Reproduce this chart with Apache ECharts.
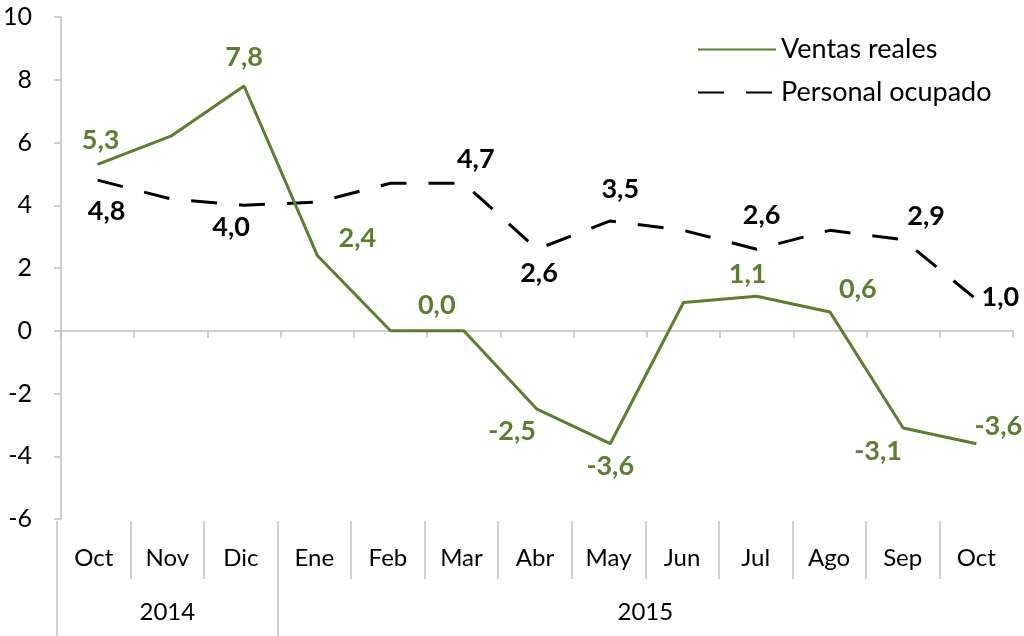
<!DOCTYPE html>
<html><head><meta charset="utf-8">
<script src="https://cdn.jsdelivr.net/npm/echarts@6/dist/echarts.min.js"></script>
<style>html,body{margin:0;padding:0;background:#fff}#c{width:1024px;height:636px}</style>
</head><body><div id="c"></div>
<script>
// ---- data ----
const months = ['Oct','Nov','Dic','Ene','Feb','Mar','Abr','May','Jun','Jul','Ago','Sep','Oct'];
const years  = ['2014','2014','2014','2015','2015','2015','2015','2015','2015','2015','2015','2015','2015'];
const ventas   = [5.3, 6.2, 7.8, 2.4, 0.0, 0.0, -2.5, -3.6, 0.9, 1.1, 0.6, -3.1, -3.6];
const personal = [4.8, 4.2, 4.0, 4.1, 4.7, 4.7, 2.6, 3.5, 3.2, 2.6, 3.2, 2.9, 1.0];
const yMin = -6, yMax = 10, yStep = 2;
const seriesNames = ['Ventas reales', 'Personal ocupado'];

// ---- styling (label placement offsets) ----
const GREEN = '#5b7e2f';
const FONT = 'Lato';
const ventasLbl = {0:[3,-24],2:[0,-29],3:[40,-17],5:[-27,-25],6:[-25,22],7:[0,23],9:[-9,-22],10:[28,-23],11:[-25,23],12:[22,-17]};
const personalLbl = {0:[9,31],2:[-13,22],5:[12,-24],6:[2,24],7:[10,-32],9:[5,-34],11:[23,-23],12:[24,-2]};

function fmt(v){ return v.toFixed(1).replace('.', ','); }
function buildData(vals, lbl, color){
  return vals.map((v,i)=>{
    const o = {value:v};
    if (lbl[i]) {
      o.label = {show:true, position:'inside', offset:lbl[i], formatter: fmt(v),
        color:color, fontFamily:FONT, fontWeight:'bold', fontSize:27, align:'center', verticalAlign:'middle'};
    } else {
      o.label = {show:false};
    }
    return o;
  });
}

// half-step axes for the category table
const n = months.length;
const halfMonths = [];
for (let k=0;k<=2*n;k++) halfMonths.push(k%2===1 ? months[(k-1)/2] : '');
const halfYears = new Array(2*n+1).fill('');
const yearBounds = [0];
for (let i=1;i<n;i++) if (years[i]!==years[i-1]) yearBounds.push(i);
yearBounds.push(n);
for (let g=0; g<yearBounds.length-1; g++){
  const a=yearBounds[g], b=yearBounds[g+1];
  halfYears[a+b] = years[a];
}
const yearTickIdx = yearBounds.slice(0,-1).map(i=>2*i);

const chart = echarts.init(document.getElementById('c'));
chart.setOption({
  animation:false,
  backgroundColor:'#fff',
  textStyle:{fontFamily:FONT},
  legend:{
    orient:'vertical', left:692, top:31, itemWidth:78, itemHeight:14, itemGap:16,
    textStyle:{fontSize:27, color:'#000', fontFamily:FONT, lineHeight:27},
    data:seriesNames
  },
  grid:[
    {left:57, right:11, top:17, height:502},
    {left:57, right:11, top:519, height:60},
    {left:57, right:11, top:579, height:57}
  ],
  xAxis:[
    {gridIndex:0, type:'category', data:months, boundaryGap:true,
     axisLine:{onZero:true, lineStyle:{color:'#bfbfbf', width:1.5}},
     axisTick:{show:true, length:7, lineStyle:{color:'#bfbfbf', width:1.5}},
     axisLabel:{show:false}},
    {gridIndex:1, type:'category', data:halfMonths, boundaryGap:false, position:'bottom',
     axisLine:{show:false},
     axisTick:{show:true, inside:true, length:58, interval:(i)=> i%2===0 && i<2*n, lineStyle:{color:'#bfbfbf', width:1.5}},
     axisLabel:{show:true, inside:true, interval:0, margin:9, fontSize:24, color:'#000', fontFamily:FONT}},
    {gridIndex:2, type:'category', data:halfYears, boundaryGap:false, position:'bottom',
     axisLine:{show:false},
     axisTick:{show:true, inside:true, length:58, interval:(i)=> yearTickIdx.indexOf(i)>=0, lineStyle:{color:'#bfbfbf', width:1.5}},
     axisLabel:{show:true, inside:true, interval:0, margin:12, fontSize:24, color:'#000', fontFamily:FONT}}
  ],
  yAxis:[
    {gridIndex:0, type:'value', min:yMin, max:yMax, interval:yStep,
     axisLine:{show:true, lineStyle:{color:'#bfbfbf', width:1.5}},
     axisTick:{show:true, length:7, lineStyle:{color:'#bfbfbf', width:1.5}},
     splitLine:{show:false},
     axisLabel:{fontSize:25, color:'#000', margin:29, fontFamily:FONT}},
    {gridIndex:1, type:'value', show:false},
    {gridIndex:2, type:'value', show:false}
  ],
  series:[
    {name:seriesNames[0], type:'line', xAxisIndex:0, yAxisIndex:0,
     data:buildData(ventas, ventasLbl, GREEN),
     symbol:'circle', symbolSize:1, itemStyle:{color:'rgba(0,0,0,0)'},
     lineStyle:{color:GREEN, width:3}, z:3},
    {name:seriesNames[1], type:'line', xAxisIndex:0, yAxisIndex:0,
     data:buildData(personal, personalLbl, '#000'),
     symbol:'circle', symbolSize:1, itemStyle:{color:'rgba(0,0,0,0)'},
     lineStyle:{color:'#000', width:3, type:[26,22]}, z:2}
  ]
});
</script></body></html>
